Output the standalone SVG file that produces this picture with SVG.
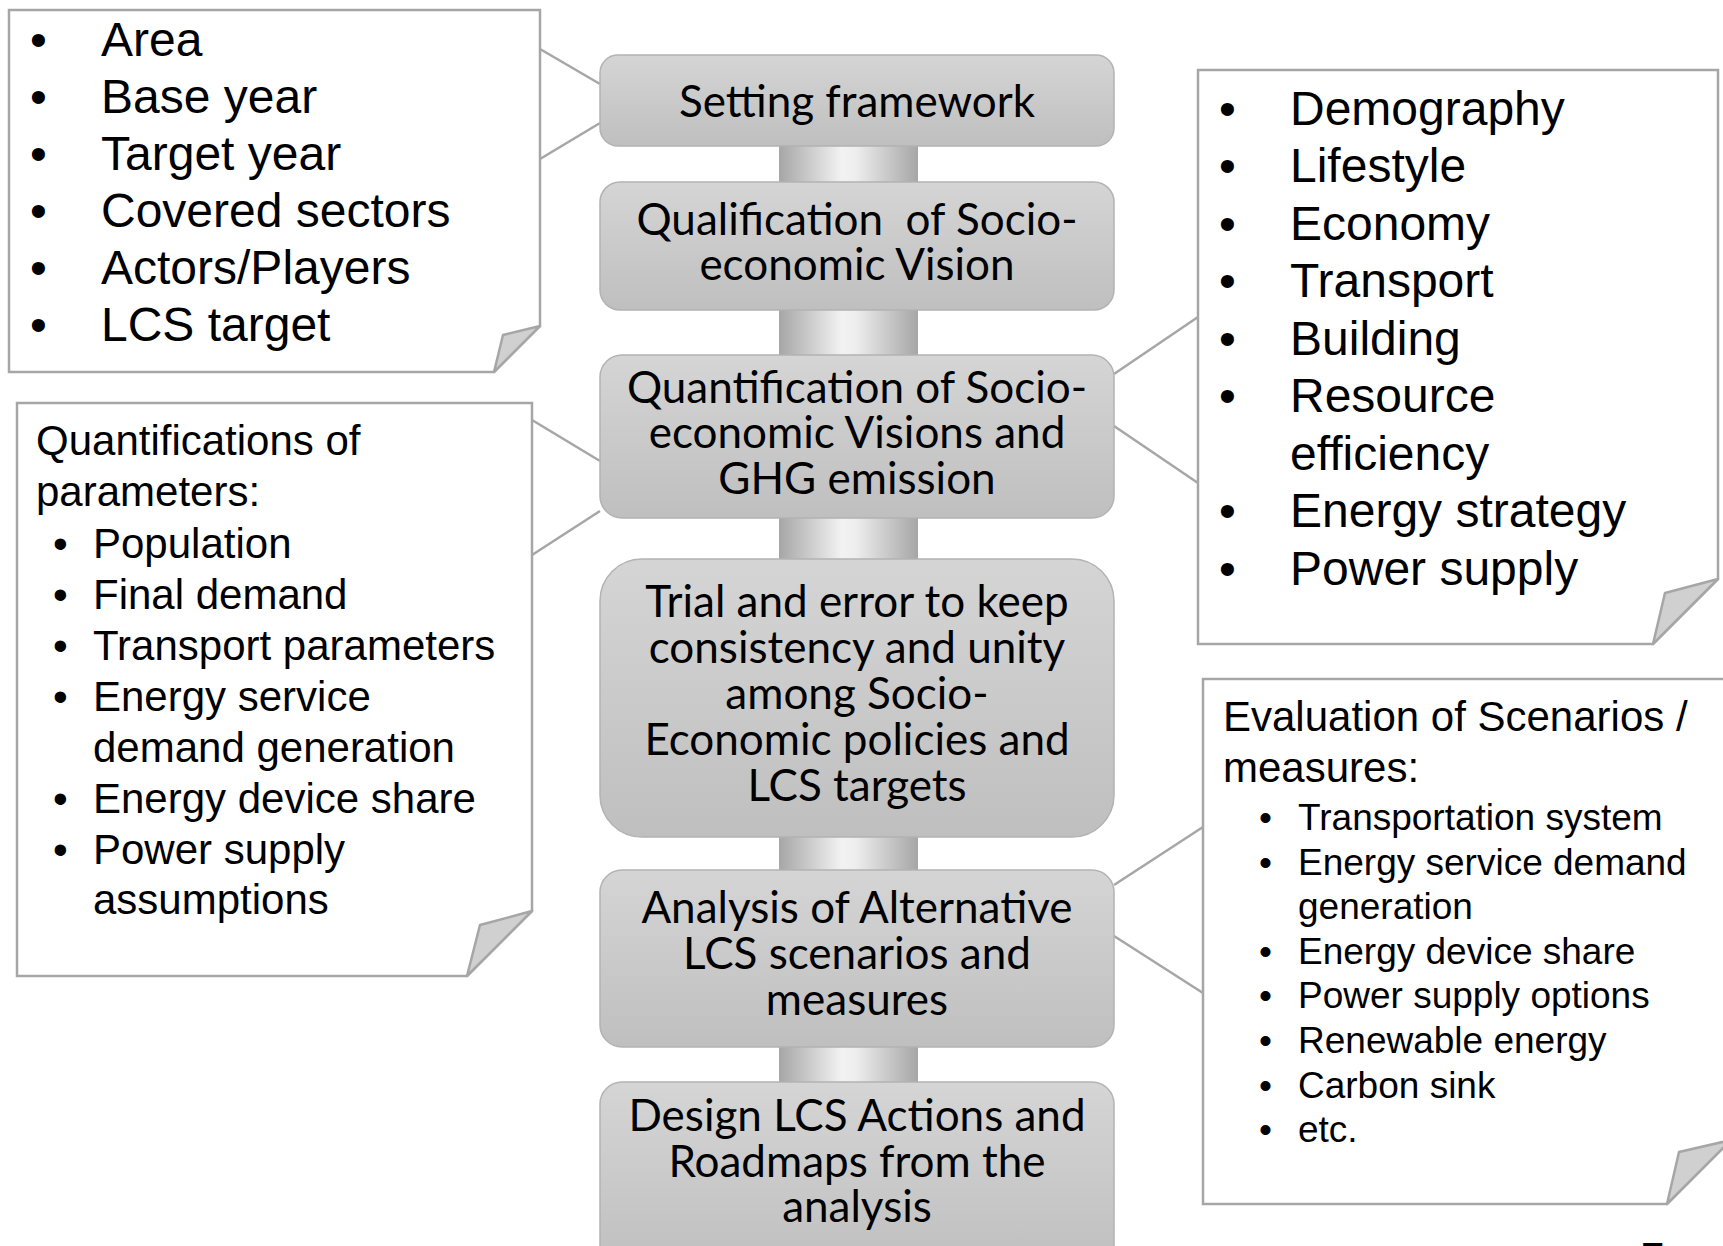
<svg xmlns="http://www.w3.org/2000/svg" width="1723" height="1246" viewBox="0 0 1723 1246">
<defs>
<linearGradient id="boxg" x1="0" y1="0" x2="0" y2="1">
<stop offset="0" stop-color="#d5d5d5"/>
<stop offset="1" stop-color="#bfbfbf"/>
</linearGradient>
<linearGradient id="barg" x1="0" y1="0" x2="1" y2="0">
<stop offset="0" stop-color="#a6a6a6"/>
<stop offset="0.45" stop-color="#f2f2f2"/>
<stop offset="0.55" stop-color="#eeeeee"/>
<stop offset="1" stop-color="#a6a6a6"/>
</linearGradient>
<style>
.step{fill:url(#boxg);stroke:#b3b3b3;stroke-width:1.5}
.bar{fill:url(#barg)}
.note{fill:#ffffff;stroke:#a6a6a6;stroke-width:2.5}
.fold{fill:#d0d0d0;stroke:#a6a6a6;stroke-width:2.5;stroke-linejoin:round}
.link{stroke:#a6a6a6;stroke-width:2.5;fill:none}
.ct{font-family:Lato,"Liberation Sans",sans-serif;font-size:44px;fill:#000;text-anchor:middle;white-space:pre}
.a48{font-family:"Liberation Sans",Arial,sans-serif;font-size:48px;fill:#000}
.a42{font-family:"Liberation Sans",Arial,sans-serif;font-size:42px;fill:#000}
.a37{font-family:"Liberation Sans",Arial,sans-serif;font-size:37px;fill:#000}
</style>
</defs>
<rect width="1723" height="1246" fill="#ffffff"/>

<g id="connectors">
<rect class="bar" x="779" y="140" width="139" height="48"/>
<rect class="bar" x="779" y="304" width="139" height="57"/>
<rect class="bar" x="779" y="512" width="139" height="53"/>
<rect class="bar" x="779" y="831" width="139" height="45"/>
<rect class="bar" x="779" y="1041" width="139" height="47"/>
<line class="link" x1="540" y1="49" x2="600" y2="84"/>
<line class="link" x1="540" y1="159" x2="600" y2="123"/>
<line class="link" x1="532" y1="420" x2="600" y2="461"/>
<line class="link" x1="532" y1="555" x2="600" y2="511"/>
<line class="link" x1="1114" y1="374" x2="1198" y2="317"/>
<line class="link" x1="1114" y1="426" x2="1198" y2="483"/>
<line class="link" x1="1114" y1="885" x2="1203" y2="827"/>
<line class="link" x1="1114" y1="936" x2="1203" y2="993"/>
</g>

<g id="step1">
<rect class="step" x="600" y="55" width="514" height="91" rx="18"/>
<text class="ct" x="857" y="117">Setting framework</text>
</g>
<g id="step2">
<rect class="step" x="600" y="182" width="514" height="128" rx="20"/>
<text class="ct" x="857" y="235">Qualification  of Socio-</text>
<text class="ct" x="857" y="280">economic Vision</text>
</g>
<g id="step3">
<rect class="step" x="600" y="355" width="514" height="163" rx="22"/>
<text class="ct" x="857" y="403">Quantification of Socio-</text>
<text class="ct" x="857" y="448">economic Visions and</text>
<text class="ct" x="857" y="494">GHG emission</text>
</g>
<g id="step4">
<rect class="step" x="600" y="559" width="514" height="278" rx="42"/>
<text class="ct" x="857" y="617">Trial and error to keep</text>
<text class="ct" x="857" y="663">consistency and unity</text>
<text class="ct" x="857" y="709">among Socio-</text>
<text class="ct" x="857" y="755">Economic policies and</text>
<text class="ct" x="857" y="801">LCS targets</text>
</g>
<g id="step5">
<rect class="step" x="600" y="870" width="514" height="177" rx="22"/>
<text class="ct" x="857" y="923">Analysis of Alternative</text>
<text class="ct" x="857" y="969">LCS scenarios and</text>
<text class="ct" x="857" y="1015">measures</text>
</g>
<g id="step6">
<rect class="step" x="600" y="1082" width="514" height="190" rx="22"/>
<text class="ct" x="857" y="1131">Design LCS Actions and</text>
<text class="ct" x="857" y="1177">Roadmaps from the</text>
<text class="ct" x="857" y="1222">analysis</text>
</g>

<g id="note-framework">
<path class="note" d="M9,10 H540 V326 L494,372 H9 Z"/>
<path class="fold" d="M540,326 L503,335 L494,372 Z"/>
<g class="a48">
<text x="30" y="56">•</text><text x="101" y="56">Area</text>
<text x="30" y="113">•</text><text x="101" y="113">Base year</text>
<text x="30" y="170">•</text><text x="101" y="170">Target year</text>
<text x="30" y="227">•</text><text x="101" y="227">Covered sectors</text>
<text x="30" y="284">•</text><text x="101" y="284">Actors/Players</text>
<text x="30" y="341">•</text><text x="101" y="341">LCS target</text>
</g>
</g>

<g id="note-parameters">
<path class="note" d="M17,403 H532 V911 L467,976 H17 Z"/>
<path class="fold" d="M532,911 L480,925 L467,976 Z"/>
<g class="a42">
<text x="36" y="455">Quantifications of</text>
<text x="36" y="506">parameters:</text>
<text x="53" y="558">•</text><text x="93" y="558">Population</text>
<text x="53" y="609">•</text><text x="93" y="609">Final demand</text>
<text x="53" y="660">•</text><text x="93" y="660">Transport parameters</text>
<text x="53" y="711">•</text><text x="93" y="711">Energy service</text>
<text x="93" y="762">demand generation</text>
<text x="53" y="813">•</text><text x="93" y="813">Energy device share</text>
<text x="53" y="864">•</text><text x="93" y="864">Power supply</text>
<text x="93" y="914">assumptions</text>
</g>
</g>

<g id="note-vision">
<path class="note" d="M1198,70 H1718 V579 L1653,644 H1198 Z"/>
<path class="fold" d="M1718,579 L1665,593 L1653,644 Z"/>
<g class="a48">
<text x="1219" y="125">•</text><text x="1290" y="125">Demography</text>
<text x="1219" y="182">•</text><text x="1290" y="182">Lifestyle</text>
<text x="1219" y="240">•</text><text x="1290" y="240">Economy</text>
<text x="1219" y="297">•</text><text x="1290" y="297">Transport</text>
<text x="1219" y="355">•</text><text x="1290" y="355">Building</text>
<text x="1219" y="412">•</text><text x="1290" y="412">Resource</text>
<text x="1290" y="470">efficiency</text>
<text x="1219" y="527">•</text><text x="1290" y="527">Energy strategy</text>
<text x="1219" y="585">•</text><text x="1290" y="585">Power supply</text>
</g>
</g>

<g id="note-evaluation">
<path class="note" d="M1203,679 H1731 V1140 L1667,1204 H1203 Z"/>
<path class="fold" d="M1731,1140 L1679,1152 L1667,1204 Z"/>
<g class="a42">
<text x="1223" y="731">Evaluation of Scenarios /</text>
<text x="1223" y="782">measures:</text>
</g>
<g class="a37">
<text x="1259" y="830">•</text><text x="1298" y="830">Transportation system</text>
<text x="1259" y="875">•</text><text x="1298" y="875">Energy service demand</text>
<text x="1298" y="919">generation</text>
<text x="1259" y="964">•</text><text x="1298" y="964">Energy device share</text>
<text x="1259" y="1008">•</text><text x="1298" y="1008">Power supply options</text>
<text x="1259" y="1053">•</text><text x="1298" y="1053">Renewable energy</text>
<text x="1259" y="1098">•</text><text x="1298" y="1098">Carbon sink</text>
<text x="1259" y="1142">•</text><text x="1298" y="1142">etc.</text>
</g>
</g>

<text class="a42" x="1641" y="1272">7</text>
</svg>
